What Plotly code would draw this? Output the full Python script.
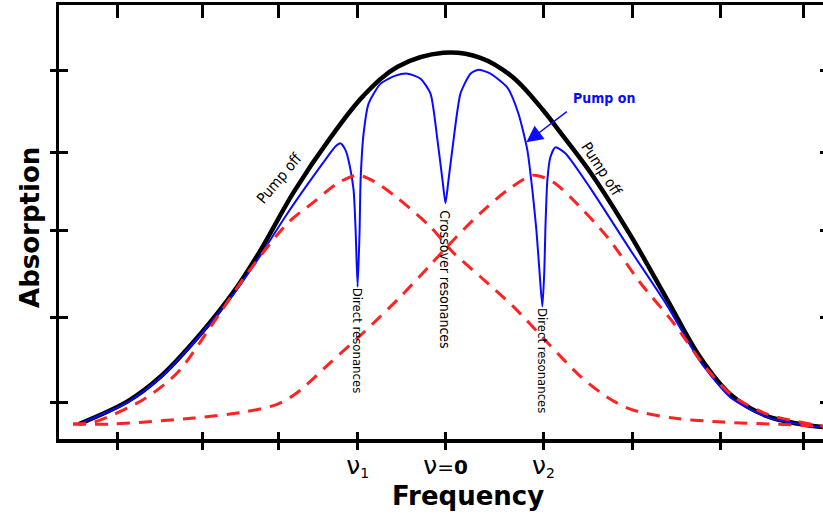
import plotly.graph_objects as go

# Frequency in arbitrary units (0 = line centre), absorption in arbitrary units
off_x = [-367, -318, -285, -245, -212, -185, -152, -115, -82, -48, -2, 35, 68, 98, 115, 145, 185, 222, 255, 285, 322, 368, 378]
off_y = [15, 38, 63, 106, 148, 190, 248, 303, 345, 374, 388, 383, 363, 330, 308, 268, 205, 140, 82, 45, 23, 13, 12]

on_x = [-367, -318, -285, -245, -212, -185, -160, -138, -120, -110, -105, -100, -96, -92, -90, -88,
        -86, -85, -82, -77, -65, -50, -38, -25, -15, -8, -3, 0, 3, 8, 15, 25, 33, 45, 62, 73, 82,
        87, 91, 94, 97, 99, 100, 102, 105, 110, 120, 145, 185, 222, 255, 285, 322, 368, 378]
on_y = [15, 37, 62, 105, 146, 185, 224, 256, 281, 294, 297, 290, 275, 250, 210, 153,
        210, 260, 307, 337, 357, 365, 367, 362, 347, 300, 260, 237, 260, 300, 347, 367, 371, 367, 353, 327, 290,
        250, 210, 170, 133, 170, 210, 260, 283, 293, 287, 252, 190, 134, 78, 42, 22, 13, 12]

g1_x = [-373, -352, -302, -268, -235, -198, -158, -132, -108, -88, -72, -48, -15, 8, 35, 68, 102, 135, 162, 185, 228, 278, 328, 368, 378]
g1_y = [15, 17, 40, 67, 113, 167, 217, 238, 257, 265, 259, 242, 213, 187, 163, 133, 97, 63, 42, 30, 21, 17, 15, 13, 12]

g2_x = [-373, -335, -252, -202, -168, -148, -115, -82, -48, -15, 8, 35, 62, 88, 108, 128, 162, 195, 228, 262, 288, 322, 355, 378]
g2_y = [15, 15, 21, 27, 35, 47, 77, 107, 140, 175, 200, 227, 250, 265, 258, 240, 203, 157, 117, 70, 43, 25, 17, 13]

x_ticks = [-328, -243, -167, -88, 0, 98, 187, 275, 358]
x_label_vals = [-88, 0, 98]
x_label_text = ["<span style='font-size:25px'>ν</span><sub>1</sub>",
                "<span style='font-size:25px'>ν</span>=<b>0</b>",
                "<span style='font-size:25px'>ν</span><sub>2</sub>"]
y_ticks = [37, 122, 209, 288, 370]

NARROW = "Liberation Sans Narrow, DejaVu Sans Condensed, Arial Narrow, sans-serif"
WIDE = "DejaVu Sans, Verdana, sans-serif"
BLUE = "#0a0aff"
RED = "#ff2222"

fig = go.Figure()
fig.add_trace(go.Scatter(x=off_x, y=off_y, mode="lines", name="Pump off",
                         line=dict(color="black", width=4.5, shape="spline", smoothing=1.0)))
fig.add_trace(go.Scatter(x=on_x, y=on_y, mode="lines", name="Pump on",
                         line=dict(color=BLUE, width=2, shape="spline", smoothing=0.6)))
fig.add_trace(go.Scatter(x=g1_x, y=g1_y, mode="lines", name="Velocity group ν1",
                         line=dict(color=RED, width=3, dash="13px,9px", shape="spline", smoothing=0.8)))
fig.add_trace(go.Scatter(x=g2_x, y=g2_y, mode="lines", name="Velocity group ν2",
                         line=dict(color=RED, width=3, dash="13px,9px", shape="spline", smoothing=0.8)))
# invisible anchors so the overlay axes (extra tick marks) get drawn
fig.add_trace(go.Scatter(x=x_ticks[:1], y=y_ticks[:1], xaxis="x2", yaxis="y2", mode="markers",
                         marker=dict(opacity=0), hoverinfo="skip", showlegend=False))
fig.add_trace(go.Scatter(x=x_ticks[:1], y=y_ticks[:1], xaxis="x3", yaxis="y3", mode="markers",
                         marker=dict(opacity=0), hoverinfo="skip", showlegend=False))

anns = [
    dict(x=-166, y=262, text="Pump off", textangle=-50, font=dict(family=NARROW, size=15, color="black")),
    dict(x=156, y=271, text="Pump off", textangle=57, font=dict(family=NARROW, size=15, color="black")),
    dict(x=159, y=343, text="<b>Pump on</b>", font=dict(family=NARROW, size=14, color=BLUE)),
    dict(x=-88, y=99, text="Direct resonances", textangle=90, font=dict(family=NARROW, size=13, color="black")),
    dict(x=0, y=160, text="Crossover resonances", textangle=90, font=dict(family=NARROW, size=14, color="black")),
    dict(x=97, y=79, text="Direct resonances", textangle=90, font=dict(family=NARROW, size=13, color="black")),
]
for a in anns:
    fig.add_annotation(xref="x", yref="y", showarrow=False, **a)
fig.add_annotation(xref="x", yref="y", x=81, y=298, ax=123, ay=330, axref="x", ayref="y", text="",
                   showarrow=True, arrowhead=2, arrowsize=2.2, arrowwidth=1.5, arrowcolor=BLUE)
# axis titles
fig.add_annotation(xref="x", yref="paper", x=23, y=0, yshift=-57, xanchor="center", yanchor="middle",
                   text="<b>Frequency</b>", showarrow=False,
                   font=dict(family=WIDE, size=26, color="black"))
fig.add_annotation(xref="paper", yref="y", x=0, xshift=-29, y=212, xanchor="center", yanchor="middle",
                   text="<b>Absorption</b>", textangle=-90,
                   showarrow=False, font=dict(family=WIDE, size=26, color="black"))

common = dict(showgrid=False, zeroline=False, tickcolor="black", tickmode="array")
XR = [-387, 378]
YR = [0, 436]
fig.update_layout(
    width=823, height=519,
    margin=dict(l=59, r=0, t=5, b=80),
    plot_bgcolor="white", paper_bgcolor="white",
    showlegend=False,
    xaxis=dict(range=XR, tickvals=x_label_vals, ticktext=x_label_text,
               ticks="outside", ticklen=7, tickwidth=3, showline=True, linewidth=4, linecolor="black",
               tickfont=dict(family=WIDE, size=20, color="black"),
               minor=dict(tickvals=x_ticks, ticks="outside", ticklen=7, tickwidth=3, tickcolor="black"),
               **common),
    xaxis2=dict(range=XR, overlaying="x", side="bottom", anchor="y2", tickvals=x_ticks,
                ticks="inside", ticklen=7, tickwidth=3, showticklabels=False, showline=False, **common),
    xaxis3=dict(range=XR, overlaying="x", side="top", anchor="y3", tickvals=x_ticks,
                ticks="inside", ticklen=13, tickwidth=3, showticklabels=False, showline=True, linewidth=3,
                linecolor="black", **common),
    yaxis=dict(range=YR, tickvals=y_ticks, ticks="outside", ticklen=6, tickwidth=3,
               showticklabels=False, showline=True, linewidth=3, linecolor="black", **common),
    yaxis2=dict(range=YR, overlaying="y", side="left", anchor="x2", tickvals=y_ticks,
                ticks="inside", ticklen=9, tickwidth=3, showticklabels=False, showline=False, **common),
    yaxis3=dict(range=YR, overlaying="y", side="right", anchor="x3", tickvals=y_ticks,
                ticks="inside", ticklen=3, tickwidth=3, showticklabels=False, showline=False, **common),
)

fig.write_html("out.html")
